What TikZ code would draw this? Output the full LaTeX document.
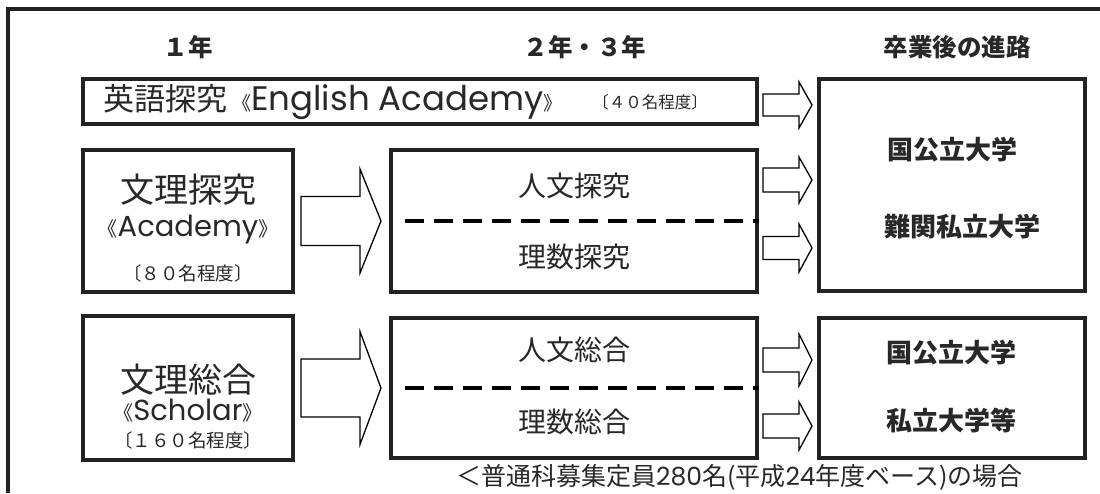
\documentclass[tikz,border=0pt]{standalone}
\usepackage{fontspec}
\setmainfont{Noto Sans CJK JP}
\newfontfamily\geo{Poppins}
\usetikzlibrary{calc}
\definecolor{ink}{RGB}{34,34,34}
\definecolor{txt}{RGB}{40,40,40}
\newcommand\fsz[1]{\fontsize{#1pt}{#1pt}\selectfont}
\tikzset{
  box/.style={draw=ink, line width=3.8pt, inner sep=0pt},
  frame/.style={draw=ink, line width=4pt, line join=miter},
  dashline/.style={draw=black, line width=4pt, dash pattern=on 19pt off 10pt},
  arr/.style={draw=black, line width=1.3pt, fill=white, line join=miter},
  lbl/.style={text=txt, inner sep=0pt},
  hdr/.style={lbl, font=\fsz{24.5}\bfseries},
  mid/.style={lbl, font=\fsz{28}},
  dest/.style={lbl, font=\fsz{26}\bfseries},
}
% block arrow: x0, yc, body half, head half, head base x, tip x
\newcommand\barrow[6]{\draw[arr] (#1,#2-#3) -- (#5,#2-#3) -- (#5,#2-#4) -- (#6,#2) -- (#5,#2+#4) -- (#5,#2+#3) -- (#1,#2+#3) -- cycle;}
\begin{document}
\begin{tikzpicture}[x=1pt,y=-1pt]
\useasboundingbox (0,0) rectangle (1100,493);
\fill[white] (0,0) rectangle (1100,493);
\coordinate (fbl) at (8,493);
\coordinate (ftl) at (8,9);
\coordinate (ftr) at (1100,9);
\draw[frame] (fbl) -- (ftl) -- (ftr);

% headers
\node[hdr] (h1) at (188,47) {１年};
\node[hdr] (h2) at (585,47) {２年・３年};
\node[hdr] (h3) at (957,47) {卒業後の進路};

% boxes
\node[box, minimum width=674pt, minimum height=45pt] (eigo) at (420,101.5) {};
\node[box, minimum width=210pt, minimum height=142pt] (bunri) at (188,221) {};
\node[box, minimum width=210pt, minimum height=144pt] (sougou) at (188,388) {};
\node[box, minimum width=366pt, minimum height=142pt] (mid1) at (574,221) {};
\node[box, minimum width=366pt, minimum height=140pt] (mid2) at (574,388) {};
\node[box, minimum width=266pt, minimum height=212pt] (right1) at (952,185) {};
\node[box, minimum width=266pt, minimum height=140pt] (right2) at (952,388) {};

% dashed separators
\draw[dashline] ($(mid1.west)+(16,0)$) -- (mid1.east);
\draw[dashline] ($(mid2.west)+(16,0)$) -- (mid2.east);

% eigo row text
\node[lbl, anchor=west] (eigot) at (103,102) {\fsz{31}英語探究\,{\fsz{19}《}{\geo\fsz{34}English Academy}{\fsz{19}》}};
\node[lbl] (eigon) at (650,102) {\fsz{16.5}〔４０名程度〕};

% bunri tankyu
\node[lbl] (b1) at (188,190) {\fsz{34}文理探究};
\node[lbl] (b2) at (188,230) {{\fsz{20}《}{\geo\fsz{29}Academy}{\fsz{20}》}};
\node[lbl] (b3) at (188,273) {\fsz{18.5}〔８０名程度〕};

% bunri sougou
\node[lbl] (s1) at (188,380) {\fsz{34}文理総合};
\node[lbl] (s2) at (188,411) {{\fsz{20}《}{\geo\fsz{29}Scholar}{\fsz{20}》}};
\node[lbl] (s3) at (188,440) {\fsz{18.5}〔１６０名程度〕};

% middle texts
\node[mid] (m1) at (574,186) {人文探究};
\node[mid] (m2) at (574,257) {理数探究};
\node[mid] (m3) at (574,350) {人文総合};
\node[mid] (m4) at (574,422) {理数総合};

% destinations
\node[dest] (d1) at (952,150) {国公立大学};
\node[dest] (d2) at (962,227) {難関私立大学};
\node[dest] (d3) at (951,353) {国公立大学};
\node[dest] (d4) at (951,420) {私立大学等};

% footer
\node[lbl, anchor=west] (foot) at (456,477) {\fsz{25}＜普通科募集定員{\geo 280}名(平成{\geo 24}年度ベース)の場合};

% block arrows
\barrow{301}{221}{24.5}{52}{360}{381}
\barrow{301}{388}{29}{56.5}{360}{381}
\barrow{763}{105}{11}{23}{799}{812}
\barrow{763}{180}{12}{23}{799}{812}
\barrow{763}{248}{11.5}{24}{799}{812}
\barrow{763}{360}{12}{26}{799}{812}
\barrow{763}{426}{12}{24}{799}{812}
\end{tikzpicture}
\end{document}
